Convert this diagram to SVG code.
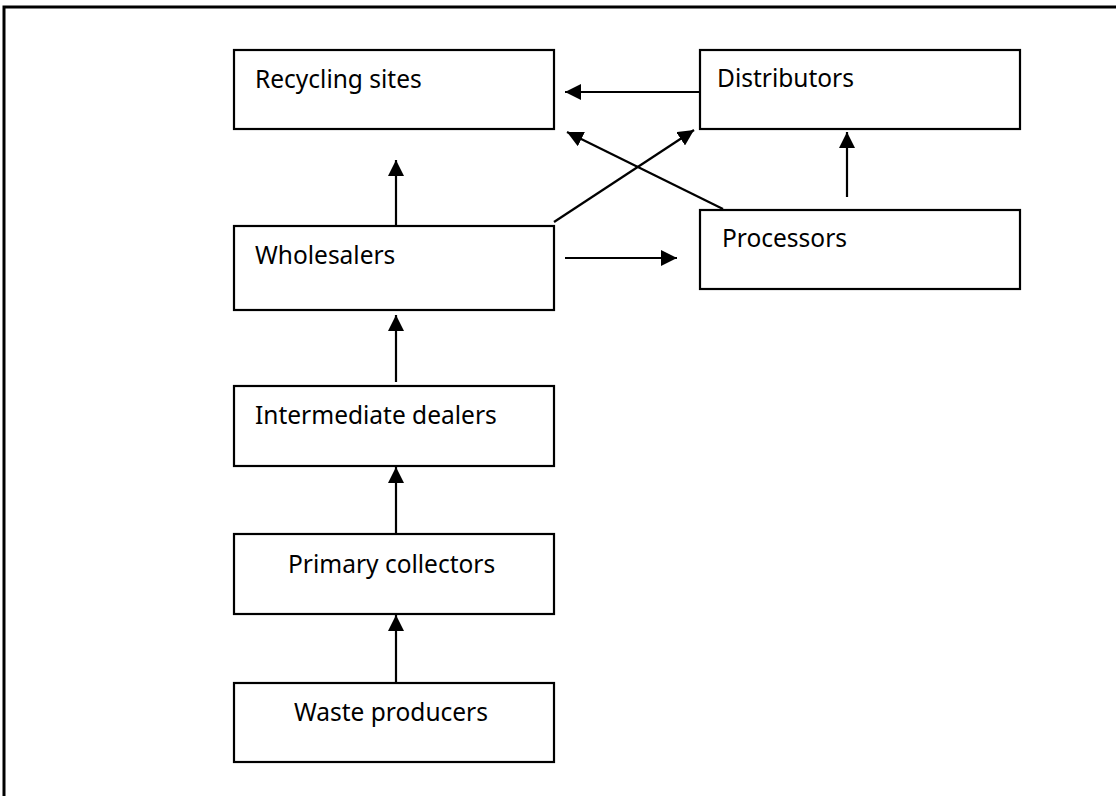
<svg xmlns="http://www.w3.org/2000/svg" width="1116" height="796" viewBox="0 0 1116 796">
<style>
.box{fill:#fff;stroke:#000;stroke-width:2.2}
.lbl{font-family:"Noto Sans","Open Sans",sans-serif;font-size:24.5px;fill:#000}
.conn{stroke:#000;stroke-width:2.2;fill:none;marker-end:url(#ah)}
.frame{stroke:#000;stroke-width:3;fill:none}
</style>
<defs>
<marker id="ah" markerUnits="userSpaceOnUse" markerWidth="17" markerHeight="16" refX="16" refY="8" orient="auto">
<path d="M0,0 L16,8 L0,16 Z" fill="#000"/>
</marker>
</defs>
<rect width="1116" height="796" fill="#fff"/>
<path class="frame" d="M4,796 V7 H1116"/>
<g id="recycling"><rect class="box" x="234" y="50" width="320" height="79"/><text class="lbl" x="255" y="88">Recycling sites</text></g>
<g id="distributors"><rect class="box" x="700" y="50" width="320" height="79"/><text class="lbl" x="717" y="87">Distributors</text></g>
<g id="processors"><rect class="box" x="700" y="210" width="320" height="79"/><text class="lbl" x="722" y="247">Processors</text></g>
<g id="wholesalers"><rect class="box" x="234" y="226" width="320" height="84"/><text class="lbl" x="255" y="264">Wholesalers</text></g>
<g id="intermediate"><rect class="box" x="234" y="386" width="320" height="80"/><text class="lbl" x="255" y="424">Intermediate dealers</text></g>
<g id="primary"><rect class="box" x="234" y="534" width="320" height="80"/><text class="lbl" x="288" y="573">Primary collectors</text></g>
<g id="waste"><rect class="box" x="234" y="683" width="320" height="79"/><text class="lbl" x="294" y="721">Waste producers</text></g>
<g id="connectors">
<line class="conn" x1="700" y1="92" x2="565" y2="92"/>
<line class="conn" x1="396" y1="226" x2="396" y2="160"/>
<line class="conn" x1="723" y1="209" x2="567" y2="132"/>
<line class="conn" x1="554" y1="222" x2="694" y2="130"/>
<line class="conn" x1="565" y1="258" x2="677" y2="258"/>
<line class="conn" x1="847" y1="197" x2="847" y2="132"/>
<line class="conn" x1="396" y1="382" x2="396" y2="315"/>
<line class="conn" x1="396" y1="534" x2="396" y2="467"/>
<line class="conn" x1="396" y1="683" x2="396" y2="615"/>
</g>
</svg>
